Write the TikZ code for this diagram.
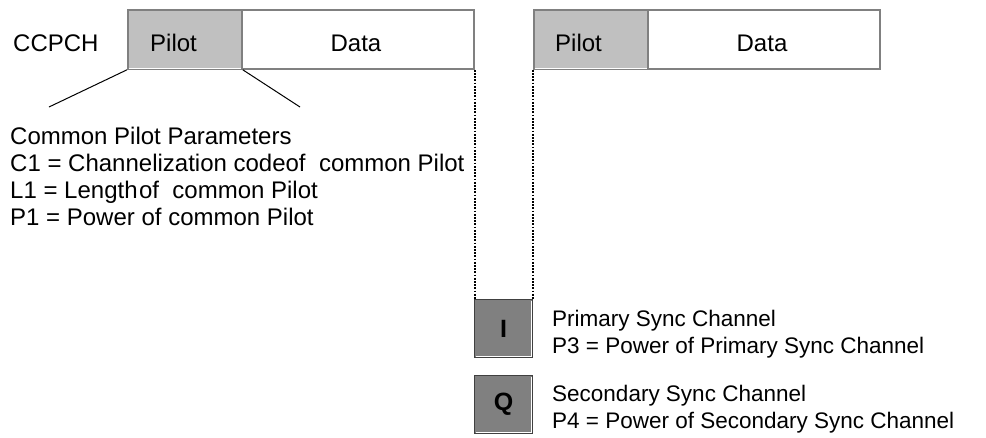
\documentclass[tikz,border=0pt]{standalone}
\usepackage{fontspec}
\setmainfont{Liberation Sans}
\definecolor{pilotgray}{HTML}{C0C0C0}
\definecolor{sqgray}{HTML}{808080}
\definecolor{edgegray}{HTML}{808080}
\definecolor{sqedge}{HTML}{404040}
\tikzset{
  slotbox/.style={draw=edgegray, line width=1.8pt, anchor=north west, inner sep=0pt},
  pilotbox/.style={slotbox, fill=pilotgray},
  databox/.style={slotbox, fill=white},
  syncbox/.style={draw=sqedge, line width=1.2pt, fill=sqgray, anchor=north west, inner sep=0pt, minimum width=58pt, minimum height=58pt},
  txt/.style={anchor=base west, inner sep=0pt},
  rtxt/.style={txt, font=\fontsize{22.5}{26}\selectfont},
  ctxt/.style={anchor=base, inner sep=0pt},
  guide/.style={black, line width=1pt},
  dots/.style={black, line width=1.6pt, dash pattern=on 1.8pt off 1.4pt},
}
\begin{document}
\begin{tikzpicture}[x=1pt,y=-1pt, font=\fontsize{24}{28}\selectfont]
\useasboundingbox (0,0) rectangle (986,437);

% first slot
\node[pilotbox, minimum width=114pt, minimum height=59pt] (p1) at (127,9) {};
\node[databox, minimum width=232pt, minimum height=59pt] (d1) at (241,9) {};
\draw[white, line width=1pt] ([xshift=1.5pt,yshift=1.5pt]p1.south west) -- ([xshift=-1.5pt,yshift=1.5pt]p1.south east);
\node[txt] (ccpch) at (13,51) {CCPCH};
\node[txt] (pt1) at (150,51) {Pilot};
\node[ctxt] (dt1) at (356,51) {Data};

% second slot
\node[pilotbox, minimum width=114pt, minimum height=59pt] (p2) at (533,9) {};
\node[databox, minimum width=232pt, minimum height=59pt] (d2) at (647,9) {};
\draw[white, line width=1pt] ([xshift=1.5pt,yshift=1.5pt]p2.south west) -- ([xshift=-1.5pt,yshift=1.5pt]p2.south east);
\node[txt] (pt2) at (555,51) {Pilot};
\node[ctxt] (dt2) at (762,51) {Data};

% expansion lines
\coordinate (e1) at (49,107);
\coordinate (e2) at (300,107);
\draw[guide] (p1.south west) -- (e1);
\draw[guide] (p1.south east) -- (e2);

% parameters text
\node[txt] (cpp) at (10,144) {Common Pilot Parameters};
\node[txt] (c1) at (10,171) {C1 = Channelization codeof\ \ common Pilot};
\node[txt] (l1) at (10,198) {L1 = Length\hspace{1.5pt}of\ \ common Pilot};
\node[txt] (pw1) at (10,225) {P1 = Power of common Pilot};

% sync boxes
\node[syncbox] (ibox) at (474,299) {};
\node[syncbox] (qbox) at (474,375) {};
\node[font=\fontsize{25}{28}\selectfont\bfseries] (ilab) at (ibox.center) {I};
\node[font=\fontsize{25}{28}\selectfont\bfseries] (qlab) at (qbox.center) {Q};
\draw[white, line width=1pt] ([xshift=1.5pt,yshift=1.5pt]ibox.south west) -- ([xshift=-1.5pt,yshift=1.5pt]ibox.south east) -- ([xshift=-1.5pt,yshift=-1.5pt]ibox.north east);
\draw[white, line width=1pt] ([xshift=1.5pt,yshift=1.5pt]qbox.south west) -- ([xshift=-1.5pt,yshift=1.5pt]qbox.south east) -- ([xshift=-1.5pt,yshift=-1.5pt]qbox.north east);

% dotted separators
\draw[dots] (d1.south east) -- (d1.south east |- ibox.north);
\draw[dots] (p2.south west) -- (p2.south west |- ibox.north);

% sync texts
\node[rtxt] (ps) at (552,326) {Primary Sync Channel};
\node[rtxt] (p3) at (552,353) {P3 = Power of Primary Sync Channel};
\node[rtxt] (ss) at (552,401) {Secondary Sync Channel};
\node[rtxt] (p4) at (552,428) {P4 = Power of Secondary Sync Channel};
\end{tikzpicture}
\end{document}
